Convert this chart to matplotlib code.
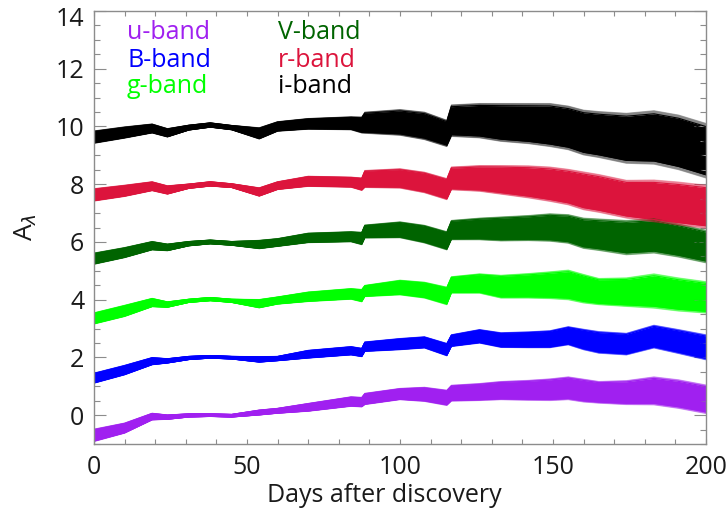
import numpy as np
import matplotlib
matplotlib.use("Agg")
import matplotlib.pyplot as plt
from matplotlib.ticker import MultipleLocator, FuncFormatter
from matplotlib.transforms import offset_copy, blended_transform_factory

plt.rcParams['font.family'] = ['Open Sans', 'DejaVu Sans']

# Sampling days shared by every band
days = [0, 10, 19, 24, 31, 38, 45, 54, 60, 70, 84, 87.5, 88.5, 100, 108, 115.3,
        116.8, 126, 133, 142, 149, 155, 160, 165, 174, 183, 191, 200]

# Extinction (offset for display) and half-spread of the realisations, per band
u_mid = [-0.70, -0.45, -0.05, -0.07, -0.01, 0.00, -0.02, 0.09, 0.15, 0.27, 0.47, 0.45, 0.56, 0.73,
         0.72, 0.60, 0.76, 0.80, 0.85, 0.86, 0.88, 0.93, 0.85, 0.79, 0.78, 0.84, 0.73, 0.55]
u_half = [0.22, 0.18, 0.12, 0.08, 0.06, 0.05, 0.05, 0.09, 0.09, 0.14, 0.17, 0.17, 0.20, 0.20,
          0.25, 0.27, 0.28, 0.30, 0.32, 0.35, 0.38, 0.40, 0.40, 0.38, 0.42, 0.49, 0.50, 0.50]

B_mid = [1.28, 1.56, 1.87, 1.88, 1.98, 2.02, 1.99, 1.93, 1.96, 2.11, 2.23, 2.17, 2.37, 2.46,
         2.52, 2.27, 2.58, 2.73, 2.60, 2.61, 2.63, 2.75, 2.62, 2.52, 2.46, 2.72, 2.55, 2.35]
B_half = [0.18, 0.17, 0.13, 0.08, 0.06, 0.05, 0.05, 0.10, 0.08, 0.14, 0.15, 0.15, 0.17, 0.20,
          0.20, 0.22, 0.21, 0.24, 0.26, 0.28, 0.30, 0.32, 0.36, 0.38, 0.38, 0.40, 0.42, 0.44]

g_mid = [3.35, 3.61, 3.90, 3.83, 3.96, 4.02, 3.96, 3.86, 3.97, 4.10, 4.20, 4.14, 4.30, 4.42,
         4.33, 4.13, 4.51, 4.56, 4.45, 4.48, 4.50, 4.51, 4.38, 4.28, 4.26, 4.30, 4.18, 4.08]
g_half = [0.20, 0.20, 0.15, 0.10, 0.06, 0.06, 0.06, 0.15, 0.13, 0.17, 0.19, 0.22, 0.20, 0.26,
          0.28, 0.31, 0.29, 0.34, 0.40, 0.43, 0.47, 0.52, 0.50, 0.46, 0.50, 0.60, 0.58, 0.55]

V_mid = [5.42, 5.63, 5.87, 5.81, 5.94, 6.00, 5.95, 5.91, 5.98, 6.14, 6.18, 6.12, 6.36, 6.42,
         6.27, 6.04, 6.41, 6.45, 6.45, 6.48, 6.50, 6.45, 6.30, 6.25, 6.15, 6.21, 6.05, 5.84]
V_half = [0.20, 0.18, 0.15, 0.12, 0.08, 0.07, 0.07, 0.15, 0.14, 0.17, 0.18, 0.22, 0.23, 0.28,
          0.31, 0.32, 0.34, 0.38, 0.42, 0.44, 0.48, 0.50, 0.53, 0.55, 0.60, 0.60, 0.58, 0.57]

r_mid = [7.63, 7.77, 7.93, 7.80, 7.93, 8.01, 7.95, 7.73, 7.95, 8.10, 8.07, 8.00, 8.18, 8.20,
         8.06, 7.83, 8.20, 8.20, 8.15, 8.08, 8.00, 7.90, 7.77, 7.68, 7.48, 7.42, 7.33, 7.22]
r_half = [0.22, 0.20, 0.16, 0.15, 0.08, 0.08, 0.07, 0.15, 0.14, 0.18, 0.18, 0.22, 0.30, 0.34,
          0.36, 0.37, 0.40, 0.45, 0.50, 0.56, 0.60, 0.62, 0.66, 0.66, 0.66, 0.73, 0.75, 0.75]

i_mid = [9.63, 9.79, 9.93, 9.78, 9.96, 10.05, 9.96, 9.76, 10.00, 10.09, 10.11, 10.05, 10.13, 10.14,
         10.02, 9.76, 10.20, 10.20, 10.14, 10.10, 10.05, 9.95, 9.79, 9.72, 9.59, 9.62, 9.45, 9.16]
i_half = [0.22, 0.20, 0.16, 0.15, 0.09, 0.08, 0.08, 0.20, 0.17, 0.19, 0.23, 0.28, 0.37, 0.45,
          0.48, 0.46, 0.55, 0.60, 0.66, 0.70, 0.75, 0.76, 0.78, 0.80, 0.87, 0.93, 0.95, 0.95]

band_names = ['u-band', 'B-band', 'g-band', 'V-band', 'r-band', 'i-band']
band_colors = ['#A020F0', '#0000FF', '#00FF00', '#006400', '#DC143C', '#000000']
band_mid = [u_mid, B_mid, g_mid, V_mid, r_mid, i_mid]
band_half = [u_half, B_half, g_half, V_half, r_half, i_half]

fig = plt.figure(figsize=(7.28, 5.21), dpi=100)
ax = fig.add_axes([94 / 728, 77 / 521, 612 / 728, 433 / 521])

# Each band: a solid core of realisations with thinner, sparser strands at the edges
d = np.asarray(days)
core = np.linspace(-0.88, 0.88, 20)
edge = np.concatenate([np.linspace(-1.0, -0.88, 8), np.linspace(0.88, 1.0, 8)])
for mid, half, col in zip(band_mid, band_half, band_colors):
    mid = np.asarray(mid)
    half = np.asarray(half)
    ax.fill_between(d, mid - 0.88 * half, mid + 0.88 * half, color=col, lw=0)
    for f in core:
        ax.plot(d, mid + f * half, color=col, lw=0.8)
    for f in edge:
        ax.plot(d, mid + f * half, color=col, lw=0.6, alpha=0.3)

ax.set_xlim(0, 200)
ax.set_ylim(-1, 14)

ax.xaxis.set_major_locator(MultipleLocator(50))
ax.xaxis.set_minor_locator(MultipleLocator(10))
ax.yaxis.set_major_locator(MultipleLocator(2))
ax.yaxis.set_minor_locator(MultipleLocator(0.5))

# The top y label sits a little below its tick, so it is drawn separately
ax.yaxis.set_major_formatter(FuncFormatter(lambda v, p: '' if v >= 13.9 else f'{v:.0f}'))

spine_col = '#8c8c8c'
for s in ax.spines.values():
    s.set_color(spine_col)
    s.set_linewidth(1.0)

text_col = '#1a1a1a'
ax.tick_params(axis='both', which='both', direction='in', top=True, right=True,
               colors=spine_col, labelcolor=text_col, labelsize=18, width=0.8)
ax.tick_params(axis='x', which='both', length=3.5, pad=8)
ax.tick_params(axis='y', which='major', length=8.5, pad=7)
ax.tick_params(axis='y', which='minor', length=4.5)

ax.text(0, 14, '14', transform=offset_copy(
            blended_transform_factory(ax.transAxes, ax.transData),
            fig=fig, x=-7, y=-6, units='points'),
        ha='right', va='center', fontsize=18, color=text_col)

ax.set_xlabel('Days after discovery', fontsize=18, color=text_col, labelpad=2)
ax.xaxis.label.set_x(0.475)
ax.set_ylabel(r'A$_\lambda$', fontsize=19, color=text_col, labelpad=12)

# Band key written as coloured text
key_x = [10.8, 10.8, 10.8, 60.0, 60.0, 60.0]
key_y = [13.27, 12.3, 11.37, 13.27, 12.3, 11.37]
for name, col, kx, ky in zip(band_names, band_colors, key_x, key_y):
    ax.text(kx, ky, name, color=col, fontsize=18, va='center', ha='left')

fig.savefig('out.png', dpi=100)
